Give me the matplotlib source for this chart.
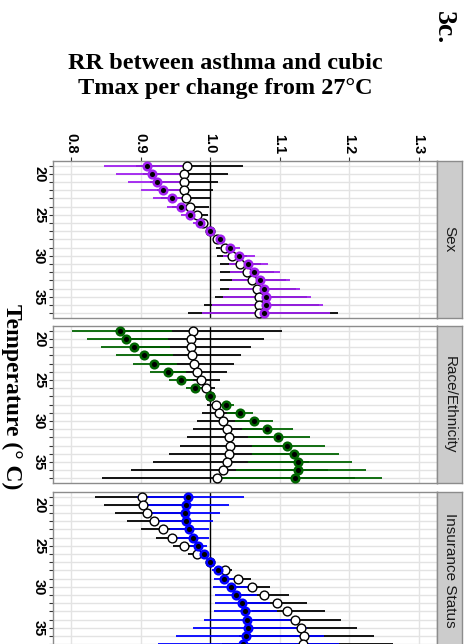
import numpy as np
import matplotlib.pyplot as plt

# temperature levels (deg C), reference at 27
temps = np.arange(19, 38)

# Sex: filled points (purple) and open points
sex_a_rr = [0.909, 0.916, 0.924, 0.933, 0.945, 0.958, 0.971, 0.986, 1.000, 1.014,
            1.029, 1.042, 1.055, 1.064, 1.072, 1.078, 1.080, 1.080, 1.077]
sex_a_lo = [0.848, 0.865, 0.882, 0.900, 0.918, 0.938, 0.958, 0.976, 1.000, 1.006,
            1.015, 1.019, 1.028, 1.029, 1.031, 1.028, 1.019, 1.003, 0.989]
sex_a_hi = [0.974, 0.970, 0.968, 0.967, 0.973, 0.978, 0.984, 0.996, 1.000, 1.022,
            1.043, 1.065, 1.083, 1.100, 1.115, 1.130, 1.145, 1.163, 1.173]
sex_b_rr = [0.967, 0.963, 0.962, 0.963, 0.965, 0.971, 0.981, 0.990, 1.000, 1.010,
            1.022, 1.031, 1.043, 1.053, 1.061, 1.068, 1.071, 1.071, 1.070]
sex_b_lo = [0.893, 0.904, 0.914, 0.924, 0.929, 0.945, 0.965, 0.985, 1.000, 1.004,
            1.008, 1.010, 1.014, 1.015, 1.015, 1.014, 1.007, 0.991, 0.969]
sex_b_hi = [1.047, 1.026, 1.012, 1.004, 1.002, 0.998, 0.997, 0.995, 1.000, 1.016,
            1.036, 1.053, 1.073, 1.092, 1.109, 1.124, 1.139, 1.157, 1.184]

# Race/Ethnicity: filled points (green) and open points
race_a_rr = [0.871, 0.879, 0.891, 0.905, 0.920, 0.939, 0.958, 0.979, 1.000, 1.023,
             1.043, 1.063, 1.082, 1.098, 1.111, 1.121, 1.127, 1.127, 1.122]
race_a_lo = [0.802, 0.823, 0.843, 0.865, 0.889, 0.914, 0.941, 0.965, 1.000, 1.011,
             1.024, 1.036, 1.046, 1.054, 1.060, 1.060, 1.054, 1.037, 1.009]
race_a_hi = [0.946, 0.939, 0.942, 0.947, 0.952, 0.965, 0.975, 0.993, 1.000, 1.035,
             1.062, 1.091, 1.119, 1.144, 1.165, 1.186, 1.205, 1.225, 1.248]
race_b_rr = [0.976, 0.973, 0.973, 0.974, 0.977, 0.982, 0.987, 0.994, 1.000, 1.008,
             1.013, 1.019, 1.024, 1.027, 1.029, 1.028, 1.024, 1.018, 1.010]
race_b_lo = [0.864, 0.879, 0.894, 0.908, 0.923, 0.942, 0.960, 0.981, 1.000, 0.995,
             0.988, 0.982, 0.975, 0.967, 0.957, 0.941, 0.918, 0.886, 0.844]
race_b_hi = [1.103, 1.077, 1.059, 1.045, 1.034, 1.024, 1.015, 1.007, 1.000, 1.022,
             1.039, 1.057, 1.075, 1.091, 1.106, 1.123, 1.142, 1.170, 1.208]

# Insurance Status: filled points (blue) and open points
ins_a_rr = [0.969, 0.965, 0.964, 0.965, 0.970, 0.975, 0.983, 0.992, 1.000, 1.011,
            1.020, 1.030, 1.037, 1.046, 1.050, 1.053, 1.054, 1.052, 1.047]
ins_a_lo = [0.895, 0.907, 0.916, 0.927, 0.942, 0.952, 0.971, 0.986, 1.000, 1.003,
            1.006, 1.005, 1.007, 1.007, 1.006, 0.991, 0.975, 0.951, 0.925]
ins_a_hi = [1.049, 1.027, 1.014, 1.005, 0.999, 0.999, 0.995, 0.998, 1.000, 1.018,
            1.034, 1.056, 1.068, 1.087, 1.096, 1.119, 1.139, 1.164, 1.185]
ins_b_rr = [0.902, 0.904, 0.910, 0.919, 0.932, 0.946, 0.963, 0.981, 1.000, 1.022,
            1.040, 1.060, 1.078, 1.096, 1.111, 1.123, 1.131, 1.135, 1.134]
ins_b_lo = [0.834, 0.848, 0.863, 0.880, 0.900, 0.922, 0.947, 0.969, 1.000, 1.011,
            1.021, 1.034, 1.043, 1.054, 1.060, 1.062, 1.055, 1.042, 1.017]
ins_b_hi = [0.976, 0.964, 0.960, 0.960, 0.965, 0.971, 0.979, 0.993, 1.000, 1.032,
            1.059, 1.087, 1.114, 1.140, 1.165, 1.188, 1.212, 1.236, 1.264]

facets = ["Sex", "Race/Ethnicity", "Insurance Status"]
facet_colors = ["#A020F0", "#006400", "#0000FF"]
rr_ticks = [0.8, 0.9, 1.0, 1.1, 1.2, 1.3]
temp_labels = [20, 25, 30, 35]

panels = [
    (sex_a_rr, sex_a_lo, sex_a_hi, sex_b_rr, sex_b_lo, sex_b_hi),
    (race_a_rr, race_a_lo, race_a_hi, race_b_rr, race_b_lo, race_b_hi),
    (ins_a_rr, ins_a_lo, ins_a_hi, ins_b_rr, ins_b_lo, ins_b_hi),
]

W, H = 466, 644
fig = plt.figure(figsize=(W / 100, H / 100), dpi=100)


def box(x0, y0, x1, y1):
    # pixel box (from top-left) -> figure fraction
    return [x0 / W, 1 - y1 / H, (x1 - x0) / W, (y1 - y0) / H]


sans = "Liberation Sans"
serif = "Liberation Serif"
border = "#8c8c8c"
panel_tops = [160.7, 326.0, 491.7]
panel_h = 157.3

for i, (top, name, col, data) in enumerate(zip(panel_tops, facets, facet_colors, panels)):
    a_rr, a_lo, a_hi, b_rr, b_lo, b_hi = [np.array(d) for d in data]
    ax = fig.add_axes(box(53, top, 437, top + panel_h))
    ax.set_xlim(0.7741, 1.3266)
    ax.set_ylim(37.6, 18.4)

    # grid
    for t in temps:
        ax.axhline(t, color="#e3e3e3", lw=1.0, zorder=0)
    for v in rr_ticks:
        if v != 1.0:
            ax.axvline(v, color="#e3e3e3", lw=1.0, zorder=0)
    ax.axvline(1.0, color="black", lw=1.0, zorder=1)

    # confidence intervals
    ax.hlines(temps, b_lo, b_hi, color="black", lw=1.3, zorder=2)
    ax.hlines(temps, a_lo, a_hi, color=col, lw=1.3, zorder=3)

    # point estimates
    ax.scatter(b_rr, temps, s=40, facecolor="white", edgecolor="black",
               linewidth=1.0, zorder=4)
    ax.scatter(a_rr, temps, s=30, facecolor="black", edgecolor=col,
               linewidth=1.8, zorder=5)

    for sp in ax.spines.values():
        sp.set_color(border)
        sp.set_linewidth(1.0)

    ax.set_yticks(temps)
    ax.set_yticklabels([str(t) if t in temp_labels else "" for t in temps],
                       rotation=-90, va="center", fontfamily=sans,
                       fontweight="bold", fontsize=10.5)
    ax.tick_params(axis="y", length=3, width=0.8, color="#333333", pad=2)

    if i == 0:
        ax.xaxis.tick_top()
        ax.set_xticks(rr_ticks)
        ax.set_xticklabels([f"{v:.1f}" for v in rr_ticks], rotation=-90,
                           fontfamily=sans, fontweight="bold", fontsize=10.5)
        ax.tick_params(axis="x", length=3, width=0.8, color="#333333", pad=2)
    else:
        ax.set_xticks([])

    # facet strip on the right
    sx = fig.add_axes(box(437, top, 462, top + panel_h))
    sx.set_facecolor("#cccccc")
    sx.set_xticks([])
    sx.set_yticks([])
    for sp in sx.spines.values():
        sp.set_color(border)
        sp.set_linewidth(1.0)
    sx.text(0.5, 0.5, name, rotation=-90, ha="center", va="center",
            transform=sx.transAxes, fontfamily=sans, fontsize=11,
            color="#1a1a1a")

fig.text(225.5 / W, 1 - 76 / H, "RR between asthma and cubic\nTmax per change from 27°C",
         ha="center", va="center", fontfamily=serif, fontweight="bold",
         fontsize=17.5, linespacing=1.2)
fig.text(443 / W, 1 - 28 / H, "3c.", rotation=-90, ha="center", va="center",
         fontfamily=serif, fontweight="bold", fontsize=20)
fig.text(12 / W, 1 - 397 / H, "Temperature (° C)", rotation=-90, ha="center",
         va="center", fontfamily=serif, fontweight="bold", fontsize=17)

fig.savefig("out.png", dpi=100)
